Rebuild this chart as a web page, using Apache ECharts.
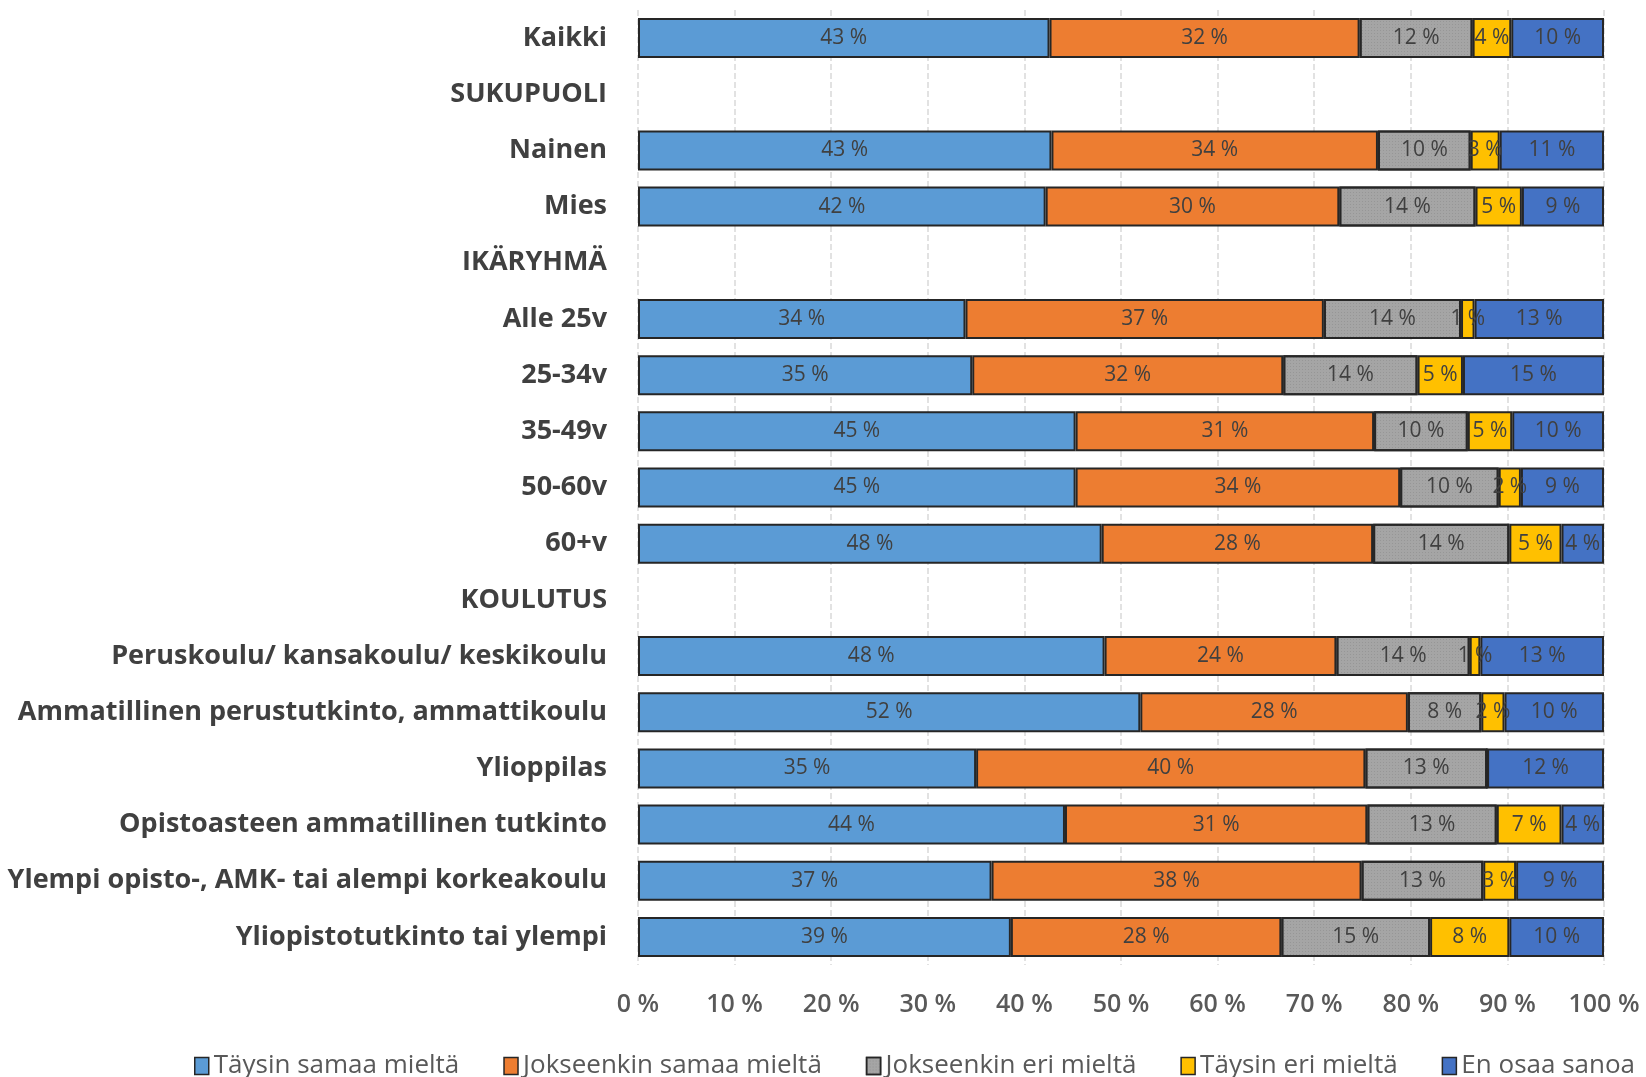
<!DOCTYPE html>
<html>
<head>
<meta charset="utf-8">
<script src="https://cdn.jsdelivr.net/npm/echarts@6/dist/echarts.min.js"></script>
<style>
html,body{margin:0;padding:0;background:#fff;}
#c{width:1646px;height:1077px;}
</style>
</head>
<body>
<div id="c"></div>
<script>
const categories = ["Kaikki","SUKUPUOLI","Nainen","Mies","IKÄRYHMÄ","Alle 25v","25-34v","35-49v","50-60v","60+v","KOULUTUS","Peruskoulu/ kansakoulu/ keskikoulu","Ammatillinen perustutkinto, ammattikoulu","Ylioppilas","Opistoasteen ammatillinen tutkinto","Ylempi opisto-, AMK- tai alempi korkeakoulu","Yliopistotutkinto tai ylempi"];
const seriesNames = ["Täysin samaa mieltä","Jokseenkin samaa mieltä","Jokseenkin eri mieltä","Täysin eri mieltä","En osaa sanoa"];
const taysinSamaa     = [42.6,null,42.8,42.2,null,33.9,34.6,45.3,45.3,48.0,null,48.3,52.0,35.0,44.2,36.6,38.6];
const jokseenkinSamaa = [32.1,null,33.8,30.4,null,37.1,32.2,30.9,33.6,28.1,null,24.0,27.7,40.3,31.3,38.3,28.0];
const jokseenkinEri   = [11.7,null,9.6,14.1,null,14.2,13.9,9.7,10.2,14.1,null,13.8,7.6,12.6,13.4,12.6,15.4];
const taysinEri       = [4.0,null,3.0,4.8,null,1.4,4.7,4.6,2.3,5.4,null,1.1,2.4,0,6.7,3.4,8.2];
const enOsaa          = [9.6,null,10.8,8.5,null,13.4,14.6,9.5,8.6,4.4,null,12.8,10.3,12.1,4.4,9.1,9.8];
const xTicks = [0,10,20,30,40,50,60,70,80,90,100];
</script>
<script>
const colors = ['#5B9BD5','#ED7D31','#A5A5A5','#FFC000','#4472C4'];
const allData = [taysinSamaa, jokseenkinSamaa, jokseenkinEri, taysinEri, enOsaa];
const FONT = '"Open Sans", "Noto Sans", sans-serif';
const grayDecal = {symbol:'rect', symbolSize:1, color:'rgba(110,110,110,0.28)', dashArrayX:[1,2], dashArrayY:[1,2], rotation:0};
const chart = echarts.init(document.getElementById('c'));
chart.setOption({
  animation:false,
  color: colors,
  grid:{left:638,right:42,top:10,bottom:112,containLabel:false},
  legend:{
    left:189, top:1048, itemWidth:14, itemHeight:17, itemGap:44,
    icon:'rect',
    textStyle:{fontFamily:FONT,fontSize:26,color:'#595959'},
    itemStyle:{borderColor:'#262626',borderWidth:1.5}
  },
  xAxis:{
    type:'value',min:xTicks[0],max:xTicks[xTicks.length-1],interval:10,
    axisLine:{show:false},axisTick:{show:false},
    splitLine:{show:true,lineStyle:{color:'#d9d9d9',type:'dashed',width:1.5}},
    axisLabel:{formatter:'{value} %',fontFamily:FONT,fontSize:25,fontWeight:600,color:'#595959',margin:27}
  },
  yAxis:{
    type:'category',data:categories,inverse:true,
    axisLine:{show:false},axisTick:{show:false},
    axisLabel:{fontFamily:FONT,fontSize:27,fontWeight:700,color:'#404040',margin:31}
  },
  series: seriesNames.map((n,i)=>({
    name:n,type:'bar',stack:'all',barWidth:40,
    data: allData[i],
    itemStyle: Object.assign({color:colors[i],borderColor:'#262626',borderWidth:2}, i===2 ? {decal:grayDecal} : {}),
    label:{show:true,position:'inside',fontFamily:FONT,fontSize:21,fontWeight:'normal',color:'#404040',
      formatter:p=> (p.value ? Math.round(p.value)+' %' : '')}
  }))
});
</script>
</body>
</html>
